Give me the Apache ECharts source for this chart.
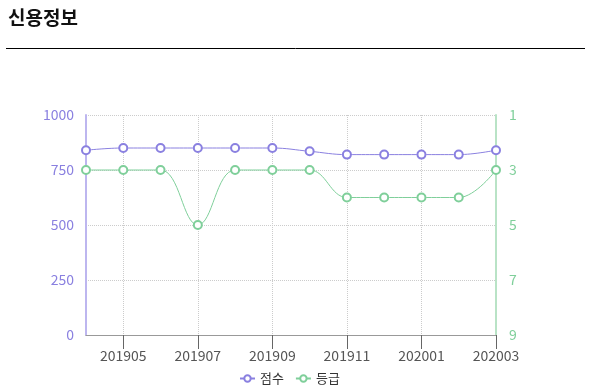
<!DOCTYPE html>
<html><head><meta charset="utf-8">
<script src="https://cdn.jsdelivr.net/npm/echarts@6/dist/echarts.min.js"></script>
<style>html,body{margin:0;padding:0;background:#fff}#c{width:592px;height:391px}</style>
</head><body><div id="c"></div>
<script>
const categories = ['201904','201905','201906','201907','201908','201909','201910','201911','201912','202001','202002','202003'];
const scoreValues = [840, 850, 850, 850, 850, 850, 835, 820, 820, 820, 820, 840];
const gradeValues = [3, 3, 3, 5, 3, 3, 3, 4, 4, 4, 4, 3];
const scoreTicks = [0, 250, 500, 750, 1000];
const gradeTicks = [1, 3, 5, 7, 9];

const purple = '#8a80e0';
const green = '#7fcf9a';
const font = '"Noto Sans CJK KR", "Noto Sans", sans-serif';
const oddOnly = function (i) { return i % 2 === 1; };

const chart = echarts.init(document.getElementById('c'), null, {renderer: 'canvas'});
chart.setOption({
  animation: false,
  textStyle: {fontFamily: font},
  title: {
    text: '신용정보', left: 3, top: 3,
    textStyle: {fontSize: 19, fontWeight: 'bold', color: '#111', fontFamily: font}
  },
  graphic: [{
    type: 'line', shape: {x1: 6, y1: 48.5, x2: 585, y2: 48.5},
    style: {stroke: '#000', lineWidth: 1}
  }],
  legend: {
    data: ['점수', '등급'], bottom: 1, left: 234,
    itemWidth: 15, itemHeight: 8, itemGap: 11,
    textStyle: {fontSize: 13, color: '#333', fontFamily: font}
  },
  grid: {left: 86, right: 96, top: 115, bottom: 56, containLabel: false},
  xAxis: {
    type: 'category', data: categories, boundaryGap: false,
    axisLine: {lineStyle: {color: '#999'}},
    axisTick: {show: true, length: 14, lineStyle: {color: '#666'}, interval: oddOnly},
    axisLabel: {margin: 14, fontSize: 14, color: '#555', interval: oddOnly},
    splitLine: {show: true, lineStyle: {color: '#ccc', type: 'dotted'}, interval: oddOnly}
  },
  yAxis: [{
    type: 'value', min: scoreTicks[0], max: scoreTicks[scoreTicks.length - 1], interval: 250,
    axisLine: {show: true, lineStyle: {color: '#bdb6ef', width: 2}},
    axisTick: {show: false},
    axisLabel: {margin: 12, fontSize: 14, color: purple, formatter: function (v) { return String(v); }},
    splitLine: {show: true, lineStyle: {color: '#ccc', type: 'dotted'}}
  }, {
    type: 'value', min: gradeTicks[0], max: gradeTicks[gradeTicks.length - 1], interval: 2, inverse: true,
    position: 'right',
    axisLine: {show: true, lineStyle: {color: '#b9e3c6', width: 2}},
    axisTick: {show: false},
    axisLabel: {margin: 13, fontSize: 14, color: green, formatter: function (v) { return String(v); }},
    splitLine: {show: false}
  }],
  series: [{
    name: '점수', type: 'line', yAxisIndex: 0, data: scoreValues, smooth: 0.4,
    symbol: 'emptyCircle', symbolSize: 8,
    itemStyle: {color: purple, borderWidth: 1}, lineStyle: {color: purple, width: 1}
  }, {
    name: '등급', type: 'line', yAxisIndex: 1, data: gradeValues, smooth: 0.4,
    symbol: 'emptyCircle', symbolSize: 8,
    itemStyle: {color: green, borderWidth: 1}, lineStyle: {color: green, width: 1}
  }]
});
</script></body></html>
